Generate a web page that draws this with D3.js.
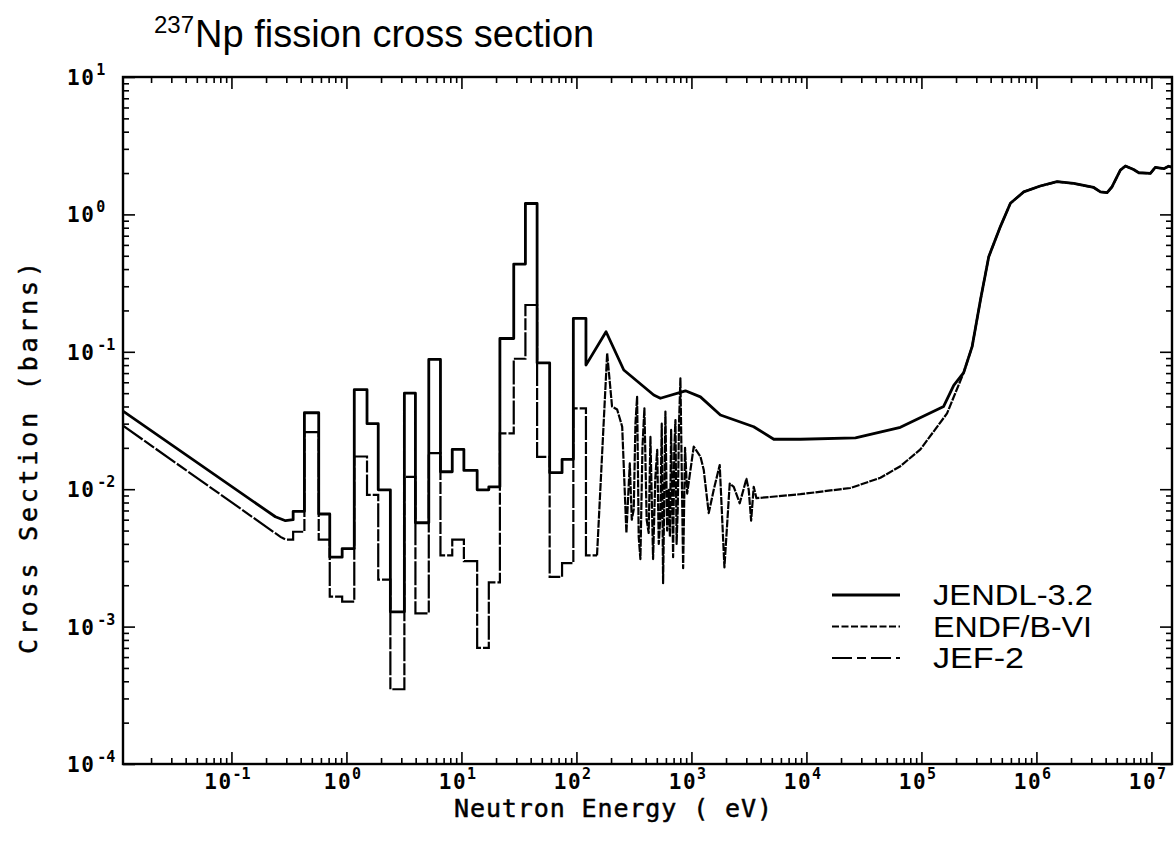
<!DOCTYPE html>
<html>
<head>
<meta charset="utf-8">
<script src="https://cdn.jsdelivr.net/npm/d3@7"></script>
<style>
  body { margin: 0; background: #fff; }
  svg { display: block; }
  .tick line { stroke: #000; stroke-width: 1.6; }
  .plotfont { font-family: "DejaVu Sans Mono", monospace; fill: #000; }
</style>
</head>
<body>
<svg id="chart" width="1176" height="860"></svg>
<script>
// ------- data (energy in eV, cross section in barns) -------

var jendlThermal = [[0.0114, 0.037], [0.241, 0.0063], [0.295, 0.0059], [0.344, 0.0060]];
var jef2Thermal  = [[0.0114, 0.029], [0.267, 0.0045], [0.295, 0.0043], [0.344, 0.0043]];

// group boundaries of the stepped resonance region
var binEdges = [0.344, 0.431, 0.574, 0.716, 0.918, 1.17, 1.51, 1.89, 2.41, 3.19, 3.98,
  5.2, 6.57, 8.32, 10.5, 13.7, 17.3, 21.6, 28.5, 36.0, 45.5, 58.5, 75.0, 94.0, 121, 151];

var jendlBins = [0.0069, 0.036, 0.0066, 0.0032, 0.0037, 0.053, 0.030, 0.0099, 0.00128,
  0.050, 0.0057, 0.088, 0.0134, 0.0195, 0.0137, 0.0099, 0.0104, 0.125, 0.435, 1.2,
  0.083, 0.0132, 0.0165, 0.175];

var jef2Bins = [0.0049, 0.026, 0.0043, 0.00165, 0.00152, 0.0173, 0.0091, 0.0022, 0.00035,
  0.0123, 0.00125, 0.0183, 0.0033, 0.0043, 0.0030, 0.00070, 0.0021, 0.0255, 0.089, 0.219,
  0.0172, 0.0023, 0.0029, 0.0388, 0.0033];

var jendlSmooth = [[121, 0.080], [181, 0.14], [258, 0.0737], [470, 0.0485], [537, 0.0459],
  [887, 0.052], [1197, 0.047], [1786, 0.0347], [3480, 0.0285], [5200, 0.0231],
  [8870, 0.0231], [26700, 0.0236], [65600, 0.0282], [156000, 0.040], [191000, 0.057],
  [233000, 0.0705]];

var endfResolved = [[151, 0.0033], [156, 0.00565], [185, 0.0975], [204, 0.040], [226, 0.038],
  [250, 0.0285], [272, 0.0048], [291, 0.0154], [303, 0.0060], [315, 0.0071], [326, 0.030],
  [337, 0.047], [348, 0.0045], [360, 0.0031], [375, 0.020], [390, 0.0388], [408, 0.0060],
  [425, 0.0048], [440, 0.024], [464, 0.0031], [485, 0.012], [504, 0.0193], [520, 0.0040],
  [537, 0.0063], [552, 0.030], [567, 0.00207], [594, 0.0367], [615, 0.0050], [635, 0.0099],
  [650, 0.0045], [666, 0.027], [693, 0.0032], [710, 0.020], [726, 0.0319], [743, 0.0040],
  [760, 0.0071], [780, 0.030], [802, 0.064], [847, 0.00266], [880, 0.020], [918, 0.0093],
  [1047, 0.0204], [1197, 0.0173], [1280, 0.0138], [1414, 0.0067], [1563, 0.0099],
  [1762, 0.015], [1936, 0.0027], [2153, 0.011], [2333, 0.0104], [2630, 0.0079],
  [3007, 0.0119], [3150, 0.0099], [3305, 0.0059], [3480, 0.0104], [3675, 0.0086],
  [8870, 0.0092], [24100, 0.0102], [44000, 0.0121], [65600, 0.0147], [98000, 0.0195],
  [167000, 0.0356], [233000, 0.0705]];

// above the threshold all three evaluations fall on one curve
var fastRegion = [[276000, 0.109], [326000, 0.238], [385000, 0.492], [486000, 0.815],
  [594000, 1.205], [776000, 1.46], [1.08e6, 1.61], [1.51e6, 1.73], [2.11e6, 1.68],
  [3.15e6, 1.57], [3.6e6, 1.46], [4.12e6, 1.44], [4.55e6, 1.59], [5.37e6, 2.10],
  [5.94e6, 2.25], [7.0e6, 2.12], [7.76e6, 2.01], [9.8e6, 1.99], [1.08e7, 2.20],
  [1.28e7, 2.15], [1.41e7, 2.24], [1.52e7, 2.2]];

var xTickExps = [-1, 0, 1, 2, 3, 4, 5, 6, 7];
var yTickExps = [-4, -3, -2, -1, 0, 1];

var legendItems = [
  {name: "JENDL-3.2", dash: null, width: 2.8, len: 160},
  {name: "ENDF/B-VI", dash: "7,2.5", width: 2.2, len: 159},
  {name: "JEF-2", dash: "20,5,9,5", width: 2.0, len: 91}
];

// ------- scales and frame -------

var L = 123, R = 1172, T = 77, B = 764;

var x = d3.scaleLog().domain([Math.pow(10, -1.943), Math.pow(10, 7.179)]).range([L, R]);
var y = d3.scaleLog().domain([1e-4, 10]).range([B, T]);

var svg = d3.select("#chart");

function steps(edges, vals) {
  var pts = [];
  vals.forEach(function(v, i) {
    pts.push([edges[i], v]);
    pts.push([edges[i + 1], v]);
  });
  return pts;
}

function minors(lo, hi, dom) {
  var out = [];
  for (var d = lo; d <= hi; d++) {
    for (var m = 2; m <= 9; m++) {
      var v = m * Math.pow(10, d);
      if (v > dom[0] && v < dom[1]) out.push(v);
    }
  }
  return out;
}

var xMajor = xTickExps.map(function(e) { return Math.pow(10, e); });
var yMajor = yTickExps.map(function(e) { return Math.pow(10, e); });
var xMinor = minors(-2, 7, x.domain());
var yMinor = minors(-4, 0, y.domain());

function tickAxis(axis, vals, size, tr) {
  svg.append("g")
    .attr("transform", tr)
    .call(axis.tickValues(vals).tickSize(-size).tickFormat(""))
    .call(function(g) { g.select(".domain").remove(); });
}

tickAxis(d3.axisBottom(x), xMajor, 12, "translate(0," + B + ")");
tickAxis(d3.axisBottom(x), xMinor, 6, "translate(0," + B + ")");
tickAxis(d3.axisTop(x), xMajor, 12, "translate(0," + T + ")");
tickAxis(d3.axisTop(x), xMinor, 6, "translate(0," + T + ")");
tickAxis(d3.axisLeft(y), yMajor, 12, "translate(" + L + ",0)");
tickAxis(d3.axisLeft(y), yMinor, 6, "translate(" + L + ",0)");
tickAxis(d3.axisRight(y), yMajor, 12, "translate(" + R + ",0)");
tickAxis(d3.axisRight(y), yMinor, 6, "translate(" + R + ",0)");

svg.append("rect")
  .attr("x", L).attr("y", T).attr("width", R - L).attr("height", B - T)
  .attr("fill", "none").attr("stroke", "#000").attr("stroke-width", 2.4);

// ------- tick labels: 10 with a raised exponent -------

xTickExps.forEach(function(e) {
  var t = svg.append("text").classed("plotfont", true)
    .attr("x", x(Math.pow(10, e)) - 4).attr("y", 789)
    .attr("text-anchor", "middle").attr("font-weight", "bold");
  t.append("tspan").attr("font-size", 21).attr("letter-spacing", 1.5).text("10");
  t.append("tspan").attr("font-size", 15).attr("dy", -10).text(e);
});

yTickExps.forEach(function(e) {
  var t = svg.append("text").classed("plotfont", true)
    .attr("x", 67).attr("y", y(Math.pow(10, e)) + 8).attr("font-weight", "bold");
  t.append("tspan").attr("font-size", 21).attr("letter-spacing", 1.5).text("10");
  t.append("tspan").attr("font-size", 15).attr("dy", -10)
    .attr("dx", e < 0 ? 2 : 1).text(e);
});

// ------- axis titles and title -------

svg.append("text").classed("plotfont", true)
  .attr("x", 613).attr("y", 817).attr("text-anchor", "middle")
  .attr("font-size", 25).attr("stroke", "#000").attr("stroke-width", 0.5)
  .attr("textLength", 318).attr("lengthAdjust", "spacing")
  .text("Neutron Energy ( eV)");

svg.append("text").classed("plotfont", true)
  .attr("transform", "translate(37,458) rotate(-90)")
  .attr("text-anchor", "middle")
  .attr("font-size", 25).attr("stroke", "#000").attr("stroke-width", 0.5)
  .attr("textLength", 392).attr("lengthAdjust", "spacing")
  .text("Cross Section (barns)");

var title = svg.append("text")
  .attr("x", 154).attr("y", 47)
  .style("font-family", "'Liberation Sans', Arial, sans-serif");
title.append("tspan").attr("font-size", 24).attr("dy", -14).text("237");
title.append("tspan").attr("font-size", 38).attr("dy", 14).attr("dx", 1).text("Np fission cross section");

// ------- curves -------

svg.append("clipPath").attr("id", "plotclip")
  .append("rect").attr("x", L).attr("y", T).attr("width", R - L).attr("height", B - T);

var plot = svg.append("g").attr("clip-path", "url(#plotclip)");

var line = d3.line()
  .x(function(d) { return x(d[0]); })
  .y(function(d) { return y(d[1]); });

var jef2Pts = jef2Thermal.concat(steps(binEdges, jef2Bins));
var endfPts = endfResolved.concat(fastRegion);
var jendlPts = jendlThermal
  .concat(steps(binEdges.slice(0, jendlBins.length + 1), jendlBins))
  .concat(jendlSmooth).concat(fastRegion);

plot.append("path").datum(jef2Pts)
  .attr("d", line).attr("fill", "none").attr("stroke", "#000")
  .attr("stroke-width", 2.2).attr("stroke-dasharray", "24,2,12,2");

plot.append("path").datum(endfPts)
  .attr("d", line).attr("fill", "none").attr("stroke", "#000")
  .attr("stroke-width", 2.2).attr("stroke-dasharray", "8,1.2")
  .attr("stroke-linejoin", "round");

plot.append("path").datum(jendlPts)
  .attr("d", line).attr("fill", "none").attr("stroke", "#000")
  .attr("stroke-width", 2.8).attr("stroke-linejoin", "round");

// ------- legend -------

var leg = svg.append("g").selectAll("g")
  .data(legendItems)
  .enter().append("g")
  .attr("transform", function(d, i) { return "translate(0," + (595 + i * 31.5) + ")"; });

leg.append("line")
  .attr("x1", 832).attr("x2", 900)
  .attr("stroke", "#000")
  .attr("stroke-width", function(d) { return d.width; })
  .attr("stroke-dasharray", function(d) { return d.dash; });

leg.append("text")
  .attr("x", 933).attr("y", 10)
  .attr("font-size", 29)
  .attr("textLength", function(d) { return d.len; })
  .attr("lengthAdjust", "spacingAndGlyphs")
  .style("font-family", "'Liberation Sans', Arial, sans-serif")
  .text(function(d) { return d.name; });
</script>
</body>
</html>
